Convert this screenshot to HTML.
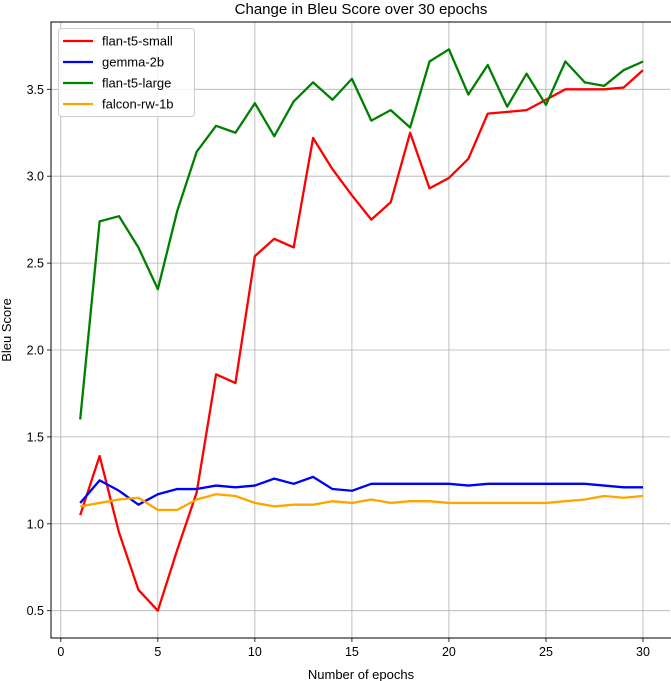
<!DOCTYPE html>
<html><head><meta charset="utf-8"><style>body{margin:0;background:#fff}svg{display:block;font-family:"Liberation Sans","DejaVu Sans",sans-serif}</style></head>
<body>
<svg id="chart" width="671" height="681"></svg>
<script>
const epochs=[1,2,3,4,5,6,7,8,9,10,11,12,13,14,15,16,17,18,19,20,21,22,23,24,25,26,27,28,29,30];
const seriesNames=["flan-t5-small","gemma-2b","flan-t5-large","falcon-rw-1b"];
const seriesColors=["#ff0000","#0000ff","#008000","#ffa500"];
const flanSmall=[1.05,1.39,0.95,0.62,0.50,0.85,1.18,1.86,1.81,2.54,2.64,2.59,3.22,3.04,2.89,2.75,2.85,3.25,2.93,2.99,3.10,3.36,3.37,3.38,3.44,3.50,3.50,3.50,3.51,3.61];
const gemma=[1.12,1.25,1.19,1.11,1.17,1.20,1.20,1.22,1.21,1.22,1.26,1.23,1.27,1.20,1.19,1.23,1.23,1.23,1.23,1.23,1.22,1.23,1.23,1.23,1.23,1.23,1.23,1.22,1.21,1.21];
const flanLarge=[1.60,2.74,2.77,2.59,2.35,2.80,3.14,3.29,3.25,3.42,3.23,3.43,3.54,3.44,3.56,3.32,3.38,3.28,3.66,3.73,3.47,3.64,3.40,3.59,3.41,3.66,3.54,3.52,3.61,3.66];
const falcon=[1.10,1.12,1.14,1.15,1.08,1.08,1.14,1.17,1.16,1.12,1.10,1.11,1.11,1.13,1.12,1.14,1.12,1.13,1.13,1.12,1.12,1.12,1.12,1.12,1.12,1.13,1.14,1.16,1.15,1.16];
const xTicks=[0,5,10,15,20,25,30];
const yTicks=[0.5,1.0,1.5,2.0,2.5,3.0,3.5];
const allSeries=[flanSmall,gemma,flanLarge,falcon];

const NS="http://www.w3.org/2000/svg";
const svg=document.getElementById('chart');
const L=51,R=670,T=22,B=638;
const X=v=>60.8+(v-0)*(643-60.8)/30;
const Y=v=>610.7-(v-0.5)*(610.7-89.3)/3.0;
function mk(tag,attrs,parent){const e=document.createElementNS(NS,tag);for(const k in attrs)e.setAttribute(k,attrs[k]);(parent||svg).appendChild(e);return e;}

const grid=mk('g',{});


xTicks.forEach(t=>{
  const l=mk('line',{x1:X(t),x2:X(t),y1:T,y2:B,stroke:'#b0b0b0','stroke-width':0.8},grid);
  
  
  const tk=mk('line',{x1:X(t),x2:X(t),y1:B,y2:B+4,stroke:'#000','stroke-width':0.8});
  
  
  const tx=mk('text',{x:X(t),y:B+18,'text-anchor':'middle','font-size':12.5,fill:'#000'});
  tx.textContent=t;
  
  
});
yTicks.forEach(t=>{
  const l=mk('line',{x1:L,x2:R,y1:Y(t),y2:Y(t),stroke:'#b0b0b0','stroke-width':0.8},grid);
  
  
  const tk=mk('line',{x1:L-4,x2:L,y1:Y(t),y2:Y(t),stroke:'#000','stroke-width':0.8});
  
  
  const tx=mk('text',{x:L-7,y:Y(t)+4.5,'text-anchor':'end','font-size':12.5,fill:'#000'});
  tx.textContent=t.toFixed(1);
  
  
});
allSeries.forEach((s,i)=>{
  const p=mk('polyline',{points:s.map((v,j)=>X(epochs[j])+','+Y(v)).join(' '),fill:'none',stroke:seriesColors[i],'stroke-width':2.3,'stroke-linejoin':'round'});
  
  
});
const frame=mk('rect',{x:L,y:T,width:R-L+5,height:B-T,fill:'none',stroke:'#000','stroke-width':1});



const title=mk('text',{x:361,y:14,'text-anchor':'middle','font-size':15,fill:'#000'});
title.textContent='Change in Bleu Score over 30 epochs';


const xl=mk('text',{x:361,y:679,'text-anchor':'middle','font-size':13,fill:'#000'});
xl.textContent='Number of epochs';


const yl=mk('text',{x:0,y:0,'text-anchor':'middle','font-size':13,fill:'#000',transform:'translate(11,330) rotate(-90)'});
yl.textContent='Bleu Score';



const lg=mk('g',{});


mk('rect',{x:58.5,y:28.5,width:136,height:88,rx:3,fill:'#fff','fill-opacity':0.85,stroke:'#ccc'},lg);
seriesNames.forEach((n,i)=>{
  const y=41+i*21;
  const g=mk('g',{},lg);
  
  
  mk('line',{x1:63,x2:93,y1:y,y2:y,stroke:seriesColors[i],'stroke-width':2.3},g);
  const t=mk('text',{x:102,y:y+4.5,'font-size':13,fill:'#000'},g);
  t.textContent=n;
});
</script>
</body></html>
